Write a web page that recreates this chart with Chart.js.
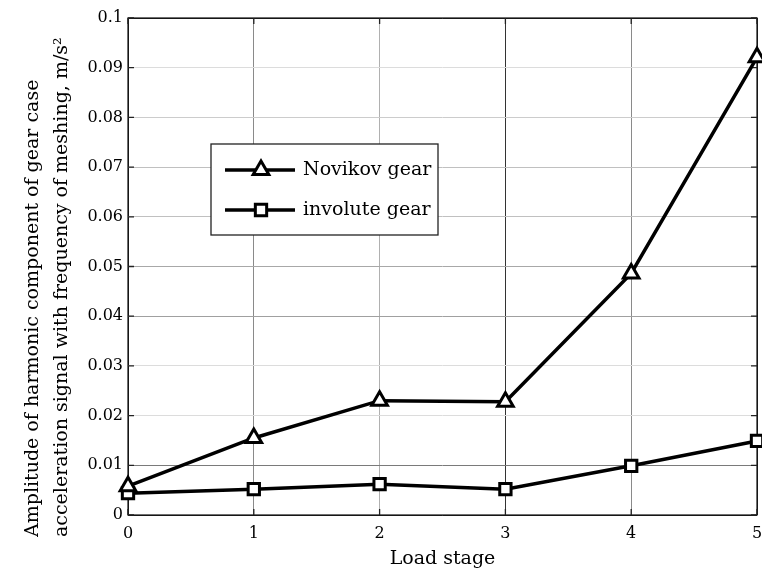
<!DOCTYPE html>
<html>
<head>
<meta charset="utf-8">
<script src="https://cdn.jsdelivr.net/npm/chart.js@4.4.1/dist/chart.umd.min.js"></script>
<style>
  html, body { margin: 0; padding: 0; background: #fff; }
  #wrap { width: 762px; height: 573px; }
</style>
</head>
<body>
<div id="wrap"><canvas id="myChart" width="762" height="573"></canvas></div>
<script>
// dati
const loadStages = [0, 1, 2, 3, 4, 5];
const novikov = [0.0058, 0.0155, 0.0230, 0.0228, 0.0486, 0.0921];
const involute = [0.0044, 0.0052, 0.0062, 0.0052, 0.0099, 0.0149];
const yTickLabels = ['0', '0.01', '0.02', '0.03', '0.04', '0.05', '0.06', '0.07', '0.08', '0.09', '0.1'];
const xTickLabels = ['0', '1', '2', '3', '4', '5'];
const yTitle = ['Amplitude of harmonic component of gear case', 'acceleration signal with frequency of meshing, m/s\u00b2'];

const serif = "'DejaVu Serif', 'Liberation Serif', serif";

// colori griglia (come nell'immagine, alcune linee piu' scure)
const xGridColors = ['#000', '#8a8a8a', '#b0b0b0', '#333', '#8a8a8a', '#000'];
const yGridColors = ['#000', '#7a7a7a', '#dcdcdc', '#dcdcdc', '#a0a0a0', '#a8a8a8', '#c0c0c0', '#c0c0c0', '#cccccc', '#dcdcdc', '#000'];

// riquadro + tacche interne
const boxPlugin = {
  id: 'box',
  beforeDatasetsDraw: (chart) => {
    const { ctx, chartArea: a, scales } = chart;
    ctx.save();
    ctx.strokeStyle = '#222';
    ctx.lineWidth = 1.3;
    ctx.strokeRect(a.left, a.top, a.right - a.left, a.bottom - a.top);
    ctx.beginPath();
    scales.y.ticks.forEach(t => {
      const y = scales.y.getPixelForValue(t.value);
      ctx.moveTo(a.left, y); ctx.lineTo(a.left + 6, y);
      ctx.moveTo(a.right, y); ctx.lineTo(a.right - 6, y);
    });
    scales.x.ticks.forEach(t => {
      const x = scales.x.getPixelForValue(t.value);
      ctx.moveTo(x, a.bottom); ctx.lineTo(x, a.bottom - 6);
      ctx.moveTo(x, a.top); ctx.lineTo(x, a.top + 6);
    });
    ctx.stroke();
    ctx.restore();
  }
};

// titolo asse y su due righe, allineato in basso come nell'originale
const yTitlePlugin = {
  id: 'yTitle',
  afterDraw: (chart) => {
    const { ctx } = chart;
    ctx.save();
    ctx.fillStyle = '#000';
    ctx.font = '19px ' + serif;
    ctx.textAlign = 'left';
    ctx.textBaseline = 'middle';
    yTitle.forEach((line, i) => {
      ctx.save();
      ctx.translate(33 + i * 29, 537);
      ctx.rotate(-Math.PI / 2);
      ctx.fillText(line, 0, 0);
      ctx.restore();
    });
    ctx.restore();
  }
};

// legenda dentro il grafico
const legendPlugin = {
  id: 'boxLegend',
  afterDraw: (chart) => {
    const { ctx } = chart;
    const x0 = 211, y0 = 144, w = 227, h = 91;
    ctx.save();
    ctx.fillStyle = '#fff';
    ctx.fillRect(x0, y0, w, h);
    ctx.strokeStyle = '#222';
    ctx.lineWidth = 1.3;
    ctx.strokeRect(x0, y0, w, h);
    chart.data.datasets.forEach((ds, i) => {
      const yy = y0 + 26 + i * 40;
      ctx.strokeStyle = '#000';
      ctx.lineWidth = 3.5;
      ctx.beginPath();
      ctx.moveTo(225, yy); ctx.lineTo(295, yy);
      ctx.stroke();
      ctx.fillStyle = '#fff';
      ctx.lineWidth = 3;
      Chart.helpers.drawPoint(ctx, {
        pointStyle: ds.pointStyle, radius: ds.pointRadius, borderWidth: 3
      }, 261, yy);
      ctx.fillStyle = '#000';
      ctx.font = '19px ' + serif;
      ctx.textBaseline = 'middle';
      ctx.fillText(ds.label, 303, yy);
    });
    ctx.restore();
  }
};

const ctx = document.getElementById('myChart');

new Chart(ctx, {
  type: 'line',
  data: {
    datasets: [
      {
        label: 'Novikov gear',
        data: loadStages.map((x, i) => ({ x: x, y: novikov[i] })),
        borderColor: '#000',
        borderWidth: 3.5,
        pointStyle: 'triangle',
        pointRadius: 9,
        pointBorderWidth: 3,
        pointBackgroundColor: '#fff',
        pointBorderColor: '#000',
        clip: false
      },
      {
        label: 'involute gear',
        data: loadStages.map((x, i) => ({ x: x, y: involute[i] })),
        borderColor: '#000',
        borderWidth: 3.5,
        pointStyle: 'rect',
        pointRadius: 8,
        pointBorderWidth: 3,
        pointBackgroundColor: '#fff',
        pointBorderColor: '#000',
        clip: false
      }
    ]
  },
  options: {
    responsive: false,
    animation: false,
    layout: { autoPadding: false, padding: { top: 18, right: 5, left: 0, bottom: 0 } },
    plugins: {
      legend: { display: false },
      tooltip: { enabled: false }
    },
    scales: {
      x: {
        type: 'linear',
        min: 0, max: 5,
        afterFit: (s) => { s.height = 58; s.paddingRight = 0; s.paddingLeft = 0; },
        ticks: {
          stepSize: 1,
          color: '#000',
          font: { family: serif, size: 16 },
          padding: 9,
          callback: (v) => xTickLabels[v]
        },
        grid: {
          color: (c) => xGridColors[c.index],
          lineWidth: 1,
          drawTicks: false
        },
        border: { display: false },
        title: {
          display: true,
          text: 'Load stage',
          color: '#000',
          font: { family: serif, size: 19 },
          padding: { top: 2, bottom: 3 }
        }
      },
      y: {
        min: 0, max: 0.1,
        afterFit: (s) => { s.width = 128; },
        ticks: {
          stepSize: 0.01,
          color: '#000',
          font: { family: serif, size: 16 },
          padding: 5,
          callback: (v, i) => yTickLabels[i]
        },
        grid: {
          color: (c) => yGridColors[c.index],
          lineWidth: 1,
          drawTicks: false
        },
        border: { display: false }
      }
    }
  },
  plugins: [boxPlugin, yTitlePlugin, legendPlugin]
});
</script>
</body>
</html>
